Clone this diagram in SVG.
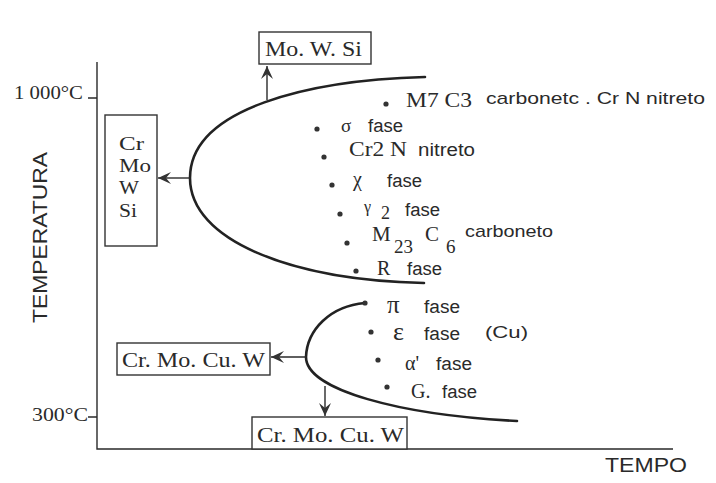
<svg xmlns="http://www.w3.org/2000/svg" width="716" height="483" viewBox="0 0 716 483">
<style>
.ln{fill:none;stroke:#2a2a2a;stroke-width:1.4}
.cv{fill:none;stroke:#222;stroke-width:2.6;stroke-linecap:round}
.bx{fill:#fff;stroke:#333;stroke-width:1.4}
.sr{font-family:"Liberation Serif","DejaVu Serif",serif;fill:#2a2a2a}
.ss{font-family:"Liberation Sans","DejaVu Sans",sans-serif;fill:#2a2a2a}
.dot{fill:#333}
</style>
<defs>
<marker id="ah" markerWidth="14" markerHeight="12" refX="13" refY="6" orient="auto" markerUnits="userSpaceOnUse">
<path d="M0,0 L13,6 L0,12 L5,6 Z" fill="#333"/>
</marker>
</defs>
<rect width="716" height="483" fill="#fff"/>

<g id="axes">
<path class="ln" d="M97,62 V449 H673"/>
<path class="ln" d="M88,98 H97 M88,417 H97"/>
<text class="sr" x="14" y="99" font-size="19" textLength="69" lengthAdjust="spacingAndGlyphs">1 000°C</text>
<text class="sr" x="32" y="421" font-size="19" textLength="56" lengthAdjust="spacingAndGlyphs">300°C</text>
<text class="ss" transform="translate(47,323) rotate(-90)" font-size="21" textLength="171" lengthAdjust="spacingAndGlyphs">TEMPERATURA</text>
<text class="ss" x="605" y="472" font-size="21" textLength="82" lengthAdjust="spacingAndGlyphs">TEMPO</text>
</g>

<g id="curves">
<path class="cv" d="M425,77 C310,80 190,108 190,178 C190,240 290,280 424,283"/>
<path class="cv" d="M365,303 C330,306 307,330 306,357 C306,390 400,415 517,421"/>
</g>

<g id="connectors">
<line class="ln" x1="267" y1="100" x2="267" y2="66" marker-end="url(#ah)"/>
<line class="ln" x1="190" y1="178" x2="158" y2="178" marker-end="url(#ah)"/>
<line class="ln" x1="306" y1="357" x2="271" y2="357" marker-end="url(#ah)"/>
<line class="ln" x1="325" y1="386" x2="325" y2="416" marker-end="url(#ah)"/>
</g>

<g id="box-mowsi">
<rect class="bx" x="259" y="32" width="112" height="32"/>
<text class="sr" x="265" y="56" font-size="21" textLength="97" lengthAdjust="spacingAndGlyphs">Mo. W. Si</text>
</g>

<g id="box-crmowsi">
<rect class="bx" x="105" y="115" width="52" height="131"/>
<text class="sr" x="119" y="150" font-size="19" textLength="25" lengthAdjust="spacingAndGlyphs">Cr</text>
<text class="sr" x="119" y="172" font-size="19" textLength="32" lengthAdjust="spacingAndGlyphs">Mo</text>
<text class="sr" x="119" y="194" font-size="19" textLength="20" lengthAdjust="spacingAndGlyphs">W</text>
<text class="sr" x="119" y="217" font-size="19" textLength="18" lengthAdjust="spacingAndGlyphs">Si</text>
</g>

<g id="box-left-low">
<rect class="bx" x="117" y="343" width="153" height="32"/>
<text class="sr" x="122" y="367" font-size="21" textLength="143" lengthAdjust="spacingAndGlyphs">Cr. Mo. Cu. W</text>
</g>

<g id="box-bottom">
<rect class="bx" x="252" y="417" width="155" height="32"/>
<text class="sr" x="257" y="442" font-size="21" textLength="147" lengthAdjust="spacingAndGlyphs">Cr. Mo. Cu. W</text>
</g>

<g id="phases-high">
<circle class="dot" cx="386" cy="104" r="2.6"/>
<text class="sr" x="406" y="107" font-size="22" textLength="66" lengthAdjust="spacingAndGlyphs">M7 C3</text>
<text class="ss" x="486" y="104" font-size="17" textLength="219" lengthAdjust="spacingAndGlyphs">carbonetc . Cr N nitreto</text>

<circle class="dot" cx="317" cy="129" r="2.6"/>
<text class="sr" x="341" y="132" font-size="19">σ</text>
<text class="ss" x="368" y="132" font-size="18" textLength="35" lengthAdjust="spacingAndGlyphs">fase</text>

<circle class="dot" cx="324" cy="157" r="2.6"/>
<text class="sr" x="349" y="156" font-size="21" textLength="58" lengthAdjust="spacingAndGlyphs">Cr2 N</text>
<text class="ss" x="418" y="156" font-size="18" textLength="57" lengthAdjust="spacingAndGlyphs">nitreto</text>

<circle class="dot" cx="332" cy="185" r="2.6"/>
<text class="sr" x="353" y="186" font-size="20">χ</text>
<text class="ss" x="387" y="187" font-size="18" textLength="35" lengthAdjust="spacingAndGlyphs">fase</text>

<circle class="dot" cx="340" cy="214" r="2.6"/>
<text class="sr" x="364" y="212" font-size="16">γ</text>
<text class="sr" x="381" y="219" font-size="18">2</text>
<text class="ss" x="405" y="216" font-size="18" textLength="35" lengthAdjust="spacingAndGlyphs">fase</text>

<circle class="dot" cx="347" cy="243" r="2.6"/>
<text class="sr" x="372" y="241" font-size="21">M</text>
<text class="sr" x="394" y="253" font-size="19">23</text>
<text class="sr" x="425" y="241" font-size="21">C</text>
<text class="sr" x="446" y="253" font-size="19">6</text>
<text class="ss" x="465" y="237" font-size="17" textLength="88" lengthAdjust="spacingAndGlyphs">carboneto</text>

<circle class="dot" cx="356" cy="271" r="2.6"/>
<text class="sr" x="377" y="275" font-size="20">R</text>
<text class="ss" x="407" y="275" font-size="18" textLength="35" lengthAdjust="spacingAndGlyphs">fase</text>
</g>

<g id="phases-low">
<circle class="dot" cx="365" cy="303" r="2.6"/>
<text class="sr" x="387" y="313" font-size="25">π</text>
<text class="ss" x="424" y="313" font-size="18" textLength="36" lengthAdjust="spacingAndGlyphs">fase</text>

<circle class="dot" cx="371" cy="332" r="2.6"/>
<text class="sr" x="393" y="340" font-size="26">ε</text>
<text class="ss" x="424" y="340" font-size="18" textLength="36" lengthAdjust="spacingAndGlyphs">fase</text>
<text class="ss" x="485" y="338" font-size="17" textLength="43" lengthAdjust="spacingAndGlyphs">(Cu)</text>

<circle class="dot" cx="378" cy="360" r="2.6"/>
<text class="sr" x="405" y="370" font-size="20">α'</text>
<text class="ss" x="436" y="370" font-size="18" textLength="36" lengthAdjust="spacingAndGlyphs">fase</text>

<circle class="dot" cx="387" cy="387" r="2.6"/>
<text class="sr" x="411" y="398" font-size="20">G.</text>
<text class="ss" x="442" y="398" font-size="18" textLength="35" lengthAdjust="spacingAndGlyphs">fase</text>
</g>
</svg>
